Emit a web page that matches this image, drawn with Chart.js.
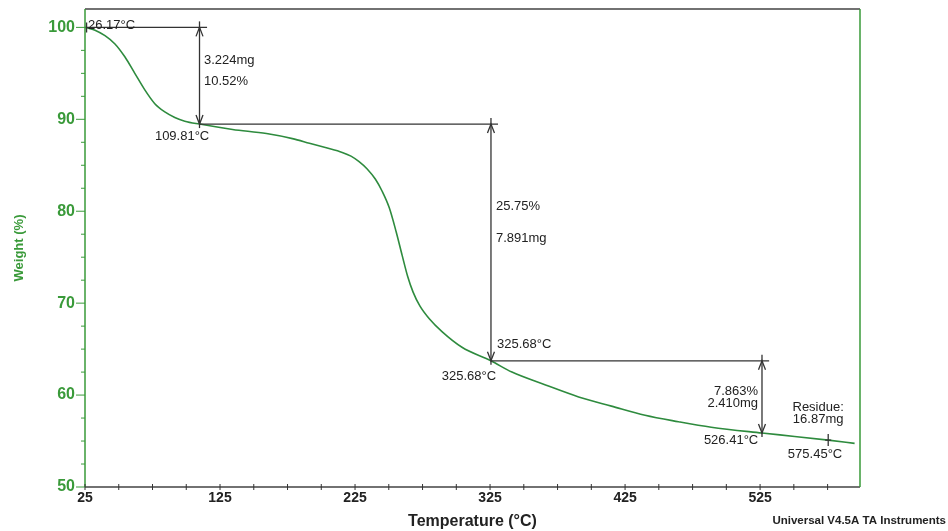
<!DOCTYPE html>
<html>
<head>
<meta charset="utf-8">
<script src="https://cdn.jsdelivr.net/npm/chart.js@4.4.1/dist/chart.umd.min.js"></script>
<style>
  html, body { margin: 0; padding: 0; background: #fff; }
  #wrap { position: relative; width: 948px; height: 531px; }
</style>
</head>
<body>
<div id="wrap"><canvas id="tga-chart"></canvas></div>
<script>
// TGA curve (temperature in °C, weight in %)
const tempC = [25, 32.4, 39.8, 47.2, 54.5, 61.9, 69.3, 76.7, 84.1, 91.5, 98.9, 109.81,
  134.3, 159.4, 178.6, 191.2, 203.7, 215.5, 222, 228, 234, 240, 245, 250.3, 255.4,
  259.9, 264, 268, 273, 280, 289.4, 304.2, 325.68, 341.2, 366.1, 390.6, 414.9, 439.8,
  464.5, 488.8, 526.41, 550.6, 575.45, 595];
const weightPct = [100, 99.7, 99.1, 98.2, 96.8, 95.0, 93.2, 91.7, 90.8, 90.2, 89.8, 89.48,
  88.9, 88.45, 87.9, 87.4, 86.9, 86.4, 86.0, 85.4, 84.6, 83.5, 82.2, 80.4, 77.8,
  75.2, 72.9, 71.2, 69.7, 68.3, 66.9, 65.2, 63.73, 62.5, 61.1, 59.8, 58.8, 57.8,
  57.1, 56.5, 55.87, 55.5, 55.1, 54.75];

// axis ticks
const xTicks = [25, 50, 75, 100, 125, 150, 175, 200, 225, 250, 275, 300, 325, 350, 375, 400, 425, 450, 475, 500, 525, 550, 575];
const xLabelled = [25, 125, 225, 325, 425, 525];
const yTicks = [50, 52.5, 55, 57.5, 60, 62.5, 65, 67.5, 70, 72.5, 75, 77.5, 80, 82.5, 85, 87.5, 90, 92.5, 95, 97.5, 100];
const yLabelled = [50, 60, 70, 80, 90, 100];

// step analysis
const stepTemp = [26.17, 109.81, 325.68, 526.41];
const stepWeight = [100, 89.48, 63.73, 55.87];
const stepLineEnd = [115.4, 330.9, 531.7];
const residueTemp = 575.45;
const residueWeight = 55.1;

// annotation texts, anchored in data units
const notes = [
  { text: '26.17°C', x: 27.2, y: 100.2, align: 'left' },
  { text: '3.224mg', x: 113.1, y: 96.4, align: 'left' },
  { text: '10.52%', x: 113.1, y: 94.1, align: 'left' },
  { text: '109.81°C', x: 96.9, y: 88.15, align: 'center' },
  { text: '25.75%', x: 329.4, y: 80.5, align: 'left' },
  { text: '7.891mg', x: 329.4, y: 77.07, align: 'left' },
  { text: '325.68°C', x: 330.2, y: 65.5, align: 'left' },
  { text: '325.68°C', x: 309.4, y: 62.07, align: 'center' },
  { text: '7.863%', x: 523.5, y: 60.43, align: 'right' },
  { text: '2.410mg', x: 523.5, y: 59.13, align: 'right' },
  { text: 'Residue:', x: 568, y: 58.7, align: 'center' },
  { text: '16.87mg', x: 568, y: 57.4, align: 'center' },
  { text: '526.41°C', x: 503.5, y: 55.1, align: 'center' },
  { text: '575.45°C', x: 565.7, y: 53.5, align: 'center' }
];

const FONT = '"Liberation Sans", Arial, sans-serif';
const GREEN = '#3a9a3a';
const CURVE = '#2e8b3e';
const INK = '#222';

function arrowHead(ctx, x, tipY, up) {
  const d = up ? 9 : -9;
  ctx.beginPath();
  ctx.moveTo(x - 3.5, tipY + d);
  ctx.lineTo(x, tipY);
  ctx.lineTo(x + 3.5, tipY + d);
  ctx.stroke();
}

const tgaPlugin = {
  id: 'tgaPlugin',
  afterDatasetsDraw(chart) {
    const { ctx, chartArea: a, scales: { x, y } } = chart;
    ctx.save();

    // frame
    ctx.lineWidth = 1.5;
    ctx.strokeStyle = '#444';
    ctx.beginPath();
    ctx.moveTo(a.left, a.top); ctx.lineTo(a.right, a.top);
    ctx.moveTo(a.left, a.bottom); ctx.lineTo(a.right, a.bottom);
    ctx.stroke();
    ctx.strokeStyle = GREEN;
    ctx.beginPath();
    ctx.moveTo(a.left, a.top); ctx.lineTo(a.left, a.bottom);
    ctx.moveTo(a.right, a.top); ctx.lineTo(a.right, a.bottom);
    ctx.stroke();

    // tick marks
    ctx.lineWidth = 1;
    ctx.strokeStyle = GREEN;
    yTicks.forEach(v => {
      const py = y.getPixelForValue(v);
      const len = yLabelled.includes(v) ? 9 : 4;
      ctx.beginPath();
      ctx.moveTo(a.left - len, py); ctx.lineTo(a.left, py);
      ctx.stroke();
    });
    ctx.strokeStyle = '#333';
    xTicks.forEach(v => {
      const px = x.getPixelForValue(v);
      ctx.beginPath();
      ctx.moveTo(px, a.bottom - 3); ctx.lineTo(px, a.bottom + 3);
      ctx.stroke();
    });

    // step lines and arrows
    ctx.strokeStyle = '#333';
    ctx.lineWidth = 1.3;
    for (let i = 0; i < stepLineEnd.length; i++) {
      const hy = y.getPixelForValue(stepWeight[i]);
      ctx.beginPath();
      ctx.moveTo(x.getPixelForValue(stepTemp[i]), hy);
      ctx.lineTo(x.getPixelForValue(stepLineEnd[i]), hy);
      ctx.stroke();

      const vx = x.getPixelForValue(stepTemp[i + 1]);
      const top = hy;
      const bot = y.getPixelForValue(stepWeight[i + 1]);
      ctx.beginPath();
      ctx.moveTo(vx, top - 6); ctx.lineTo(vx, bot + 4);
      ctx.stroke();
      arrowHead(ctx, vx, top, true);
      arrowHead(ctx, vx, bot, false);
    }

    // crosshair marks
    const startX = x.getPixelForValue(stepTemp[0]);
    const startY = y.getPixelForValue(stepWeight[0]);
    ctx.beginPath();
    ctx.moveTo(startX, startY - 5); ctx.lineTo(startX, startY + 5);
    const rx = x.getPixelForValue(residueTemp);
    const ry = y.getPixelForValue(residueWeight);
    ctx.moveTo(rx, ry - 6); ctx.lineTo(rx, ry + 6);
    ctx.moveTo(rx - 3, ry); ctx.lineTo(rx + 3, ry);
    ctx.stroke();

    // annotation text
    ctx.fillStyle = INK;
    ctx.font = '13px ' + FONT;
    ctx.textBaseline = 'middle';
    notes.forEach(n => {
      ctx.textAlign = n.align;
      ctx.fillText(n.text, x.getPixelForValue(n.x), y.getPixelForValue(n.y));
    });

    // instrument footer
    ctx.font = 'bold 11.5px ' + FONT;
    ctx.textAlign = 'right';
    ctx.fillText('Universal V4.5A TA Instruments', 946, 521);
    ctx.restore();
  }
};

new Chart(document.getElementById('tga-chart'), {
  type: 'line',
  data: {
    datasets: [{
      label: 'Weight',
      data: tempC.map((t, i) => ({ x: t, y: weightPct[i] })),
      borderColor: CURVE,
      borderWidth: 1.6,
      pointRadius: 0,
      fill: false,
      cubicInterpolationMode: 'monotone'
    }]
  },
  options: {
    responsive: true,
    maintainAspectRatio: false,
    animation: false,
    layout: { padding: { left: 0, right: 88, top: 9, bottom: 0 } },
    plugins: { legend: { display: false }, tooltip: { enabled: false } },
    scales: {
      x: {
        type: 'linear',
        min: 25,
        max: 599,
        afterBuildTicks: s => { s.ticks = xTicks.map(v => ({ value: v })); },
        afterFit: s => { s.height = 44; s.paddingLeft = 0; s.paddingRight = 0; },
        grid: { display: false, drawTicks: false },
        border: { display: false },
        ticks: {
          autoSkip: false,
          maxRotation: 0,
          padding: 3,
          color: '#222',
          font: { family: FONT, size: 14, weight: 'bold' },
          callback: v => xLabelled.includes(v) ? String(v) : ''
        },
        title: {
          display: true,
          text: 'Temperature (°C)',
          color: '#222',
          font: { family: FONT, size: 16, weight: 'bold' },
          padding: { top: 0, bottom: 0 }
        }
      },
      y: {
        min: 50,
        max: 102,
        afterBuildTicks: s => { s.ticks = yTicks.map(v => ({ value: v })); },
        afterFit: s => { s.width = 85; s.paddingTop = 0; s.paddingBottom = 0; },
        grid: { display: false, drawTicks: false },
        border: { display: false },
        ticks: {
          autoSkip: false,
          padding: 10,
          color: GREEN,
          font: { family: FONT, size: 16, weight: 'bold', lineHeight: 1 },
          callback: v => yLabelled.includes(v) ? String(v) : ''
        },
        title: {
          display: true,
          text: 'Weight (%)',
          color: GREEN,
          font: { family: FONT, size: 13, weight: 'bold' },
          padding: { top: 12, bottom: 0 }
        }
      }
    }
  },
  plugins: [tgaPlugin]
});
</script>
</body>
</html>
